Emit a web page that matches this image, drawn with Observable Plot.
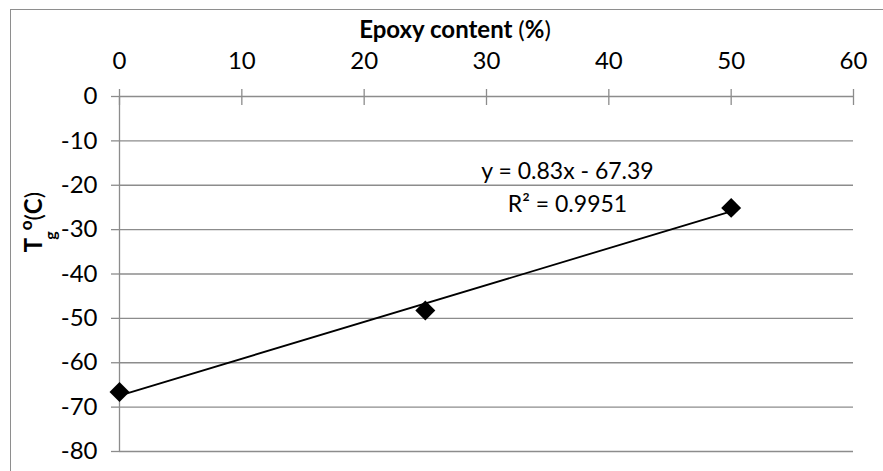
<!DOCTYPE html>
<html>
<head>
<meta charset="utf-8">
<script src="https://cdn.jsdelivr.net/npm/d3@7"></script>
<script src="https://cdn.jsdelivr.net/npm/@observablehq/plot@0.6"></script>
<style>
  body { margin: 0; background: #fff; }
  #wrap { position: relative; width: 883px; height: 471px; overflow: hidden; }
  #border { position: absolute; left: 10px; top: 9px; width: 880px; height: 470px; border: 1.3px solid #8e8e8e; pointer-events: none; }
</style>
</head>
<body>
<div id="wrap"><div id="border"></div></div>
<script>
// Data
const epoxyContent = [0, 25, 50];           // %
const tg = [-66.6, -48.2, -25.1];           // °C
const xTicks = [0, 10, 20, 30, 40, 50, 60];
const yTicks = [0, -10, -20, -30, -40, -50, -60, -70, -80];
const trendSlope = 0.83;
const trendIntercept = -67.39;
const rSquared = 0.9951;
const eqLabel = ["y = 0.83x - 67.39", "R² = 0.9951"];

const points = epoxyContent.map((x, i) => ({x, y: tg[i]}));
const trendX = d3.extent(epoxyContent);
const trend = trendX.map(x => ({x, y: trendSlope * x + trendIntercept}));

const FONT = "Lato";
const FS = 24;
const GRID = "#8c8c8c";

const chart = Plot.plot({
  width: 883,
  height: 471,
  marginTop: 96,
  marginLeft: 119,
  marginRight: 30,
  marginBottom: 20,
  style: {fontFamily: FONT, fontSize: FS + "px", background: "transparent", overflow: "visible"},
  x: {domain: [0, 60]},
  y: {domain: [-80, 0]},
  marks: [
    Plot.gridY(yTicks, {stroke: GRID, strokeOpacity: 1, strokeWidth: 1.3}),
    Plot.ruleX([0], {stroke: GRID, strokeWidth: 1.3}),
    Plot.axisY(yTicks, {anchor: "left", tickSize: 8, tickPadding: 14, stroke: GRID, strokeWidth: 1.3, fill: "black", fontSize: FS, label: null, tickFormat: d => d}),
    Plot.axisX(xTicks, {anchor: "top", tickSize: 8, tickPadding: 20, stroke: GRID, strokeWidth: 1.3, fill: "black", fontSize: FS, label: null, tickFormat: d => d}),
    Plot.axisX(xTicks, {anchor: "top", tickSize: 8, dy: 8, stroke: GRID, strokeWidth: 1.3, fill: "black", label: null, tickFormat: () => ""}),
    Plot.line(trend, {x: "x", y: "y", stroke: "black", strokeWidth: 1.8}),
    Plot.dot(points, {x: "x", y: "y", symbol: "diamond2", r: 9, fill: "black", stroke: "none"}),
    Plot.text([eqLabel[0]], {text: d => d, frameAnchor: "top-left", dx: 448, dy: 66, textAnchor: "middle", fill: "black", fontSize: 23}),
    Plot.text([eqLabel[1]], {text: d => d, frameAnchor: "top-left", dx: 448, dy: 99, textAnchor: "middle", fill: "black", fontSize: 23})
  ]
});

document.getElementById("wrap").prepend(chart);
const svg = d3.select(chart);

// X-axis title (top)
const title = svg.append("text")
  .attr("x", 455).attr("y", 38)
  .attr("text-anchor", "middle")
  .attr("font-family", FONT).attr("font-size", FS).attr("fill", "black");
title.append("tspan").attr("font-weight", "bold").text("Epoxy content ");
title.append("tspan").text("(");
title.append("tspan").attr("font-weight", "bold").text("%");
title.append("tspan").text(")");

// Y-axis title (rotated)
const yl = svg.append("text")
  .attr("transform", "translate(42,222) rotate(-90)")
  .attr("text-anchor", "middle")
  .attr("font-family", FONT).attr("font-size", FS).attr("fill", "black");
yl.append("tspan").attr("font-weight", "bold").text("T");
yl.append("tspan").attr("font-weight", "bold").attr("font-size", 16).attr("dy", 14).attr("dx", -2).text("g");
yl.append("tspan").attr("font-weight", "bold").attr("font-size", 17).attr("dy", -24).attr("dx", 1).text("o");
yl.append("tspan").attr("dy", 10).text("(");
yl.append("tspan").attr("font-weight", "bold").text("C");
yl.append("tspan").text(")");
</script>
</body>
</html>
